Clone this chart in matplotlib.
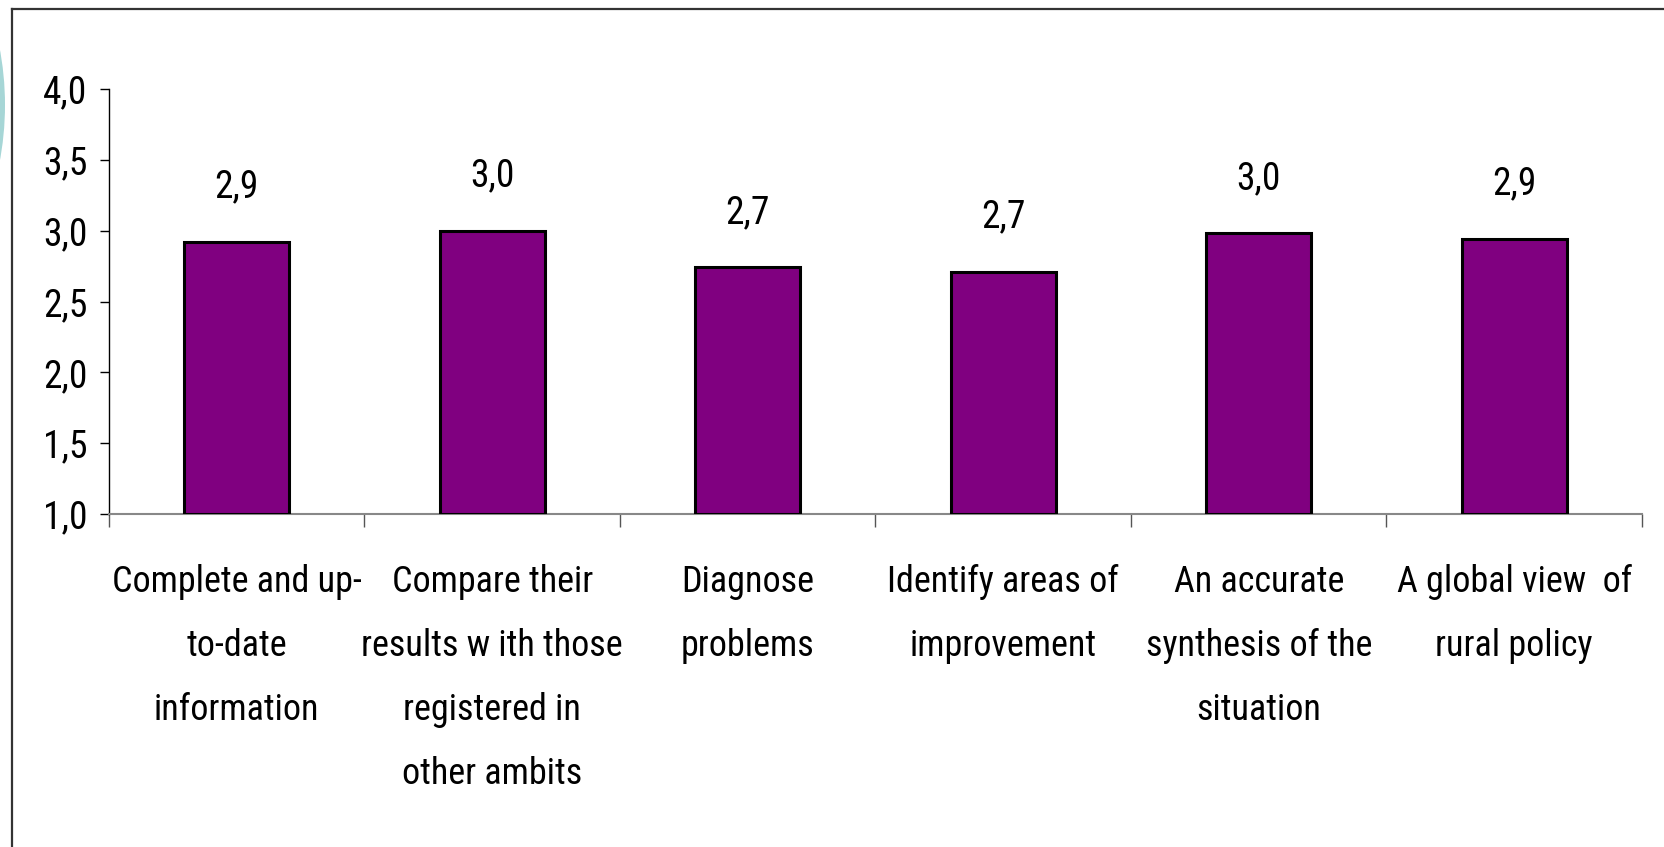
import matplotlib
matplotlib.use("Agg")
import matplotlib.pyplot as plt
from matplotlib.lines import Line2D
from matplotlib.patches import Ellipse
from matplotlib import font_manager
import numpy as np

categories = [
    "Complete and up-\nto-date\ninformation",
    "Compare their\nresults w ith those\nregistered in\nother ambits",
    "Diagnose\nproblems",
    "Identify areas of\nimprovement",
    "An accurate\nsynthesis of the\nsituation",
    "A global view  of\nrural policy",
]
values = [2.92, 3.00, 2.74, 2.71, 2.98, 2.94]
value_labels = ["2,9", "3,0", "2,7", "2,7", "3,0", "2,9"]
yticks = [1.0, 1.5, 2.0, 2.5, 3.0, 3.5, 4.0]
ytick_labels = ["1,0", "1,5", "2,0", "2,5", "3,0", "3,5", "4,0"]

installed = {f.name for f in font_manager.fontManager.ttflist}
narrow = None
for cand in ["Liberation Sans Narrow", "Arial Narrow", "Roboto Condensed",
             "Open Sans Condensed", "Noto Sans Condensed"]:
    if cand in installed:
        narrow = cand
        break
if narrow:
    family = [narrow, "DejaVu Sans"]
    fs_cat, fs_tick = 26, 27
    lsp = 2.0
else:
    family = ["Liberation Sans", "DejaVu Sans"]
    fs_cat, fs_tick = 22, 22
    lsp = 2.3
plt.rcParams['font.family'] = family

W, H = 1665, 847
fig = plt.figure(figsize=(W / 100, H / 100), dpi=100)
fig.patch.set_facecolor('white')

# decorative elements: teal arc and frame
arc = Ellipse((-300 / W, 1 - 105 / H), 2 * 305 / W, 2 * 305 / H,
              transform=fig.transFigure, facecolor='#a6d6d6', edgecolor='none')
fig.patches.append(arc)
fig.add_artist(Line2D([12 / W, 12 / W], [0, 1 - 9 / H], transform=fig.transFigure,
                      color='#333333', lw=1.6))
fig.add_artist(Line2D([12 / W, 1], [1 - 9 / H, 1 - 9 / H], transform=fig.transFigure,
                      color='#333333', lw=1.6))

left, right = 109 / W, 1642 / W
bottom, top = 1 - 514 / H, 1 - 89 / H
ax = fig.add_axes([left, bottom, right - left, top - bottom])

x = np.arange(len(categories))
ax.bar(x, [v - 1.0 for v in values], bottom=1.0, width=0.41,
       color='#800080', edgecolor='black', linewidth=2.2, zorder=3)

ax.set_xlim(-0.5, len(categories) - 0.5)
ax.set_ylim(1.0, 4.0)

for xi, v, lab in zip(x, values, value_labels):
    ax.annotate(lab, (xi, v), xytext=(0, 32), textcoords='offset points',
                ha='center', va='baseline', fontsize=fs_tick)

ax.set_yticks(yticks)
ax.set_yticklabels(ytick_labels, fontsize=fs_tick)
ax.tick_params(axis='y', direction='out', length=6.5, width=1, color='black', pad=9)

ax.set_xticks(np.arange(-0.5, len(categories), 1.0))
ax.set_xticklabels([])
ax.set_xticks(x, minor=True)
ax.set_xticklabels(categories, minor=True, fontsize=fs_cat, linespacing=lsp)
ax.tick_params(axis='x', which='major', direction='out', length=9, width=1, color='#555555')
ax.tick_params(axis='x', which='minor', length=0, pad=36)

for s in ['top', 'right']:
    ax.spines[s].set_visible(False)
ax.spines['left'].set_color('black')
ax.spines['left'].set_linewidth(1)
ax.spines['bottom'].set_color('#888888')
ax.spines['bottom'].set_linewidth(1.5)

fig.savefig('out.png', dpi=100, facecolor='white')
